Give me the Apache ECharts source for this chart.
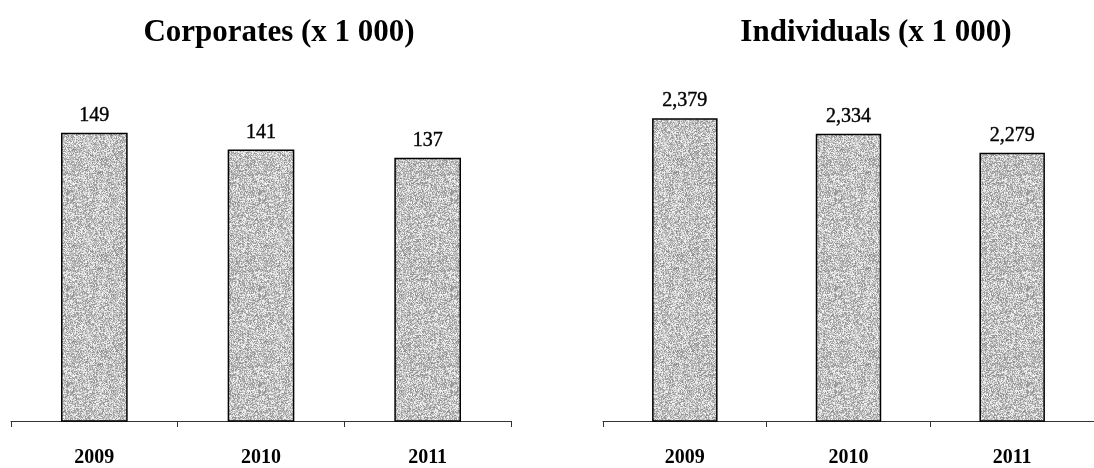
<!DOCTYPE html>
<html>
<head>
<meta charset="utf-8">
<style>
  html, body { margin: 0; padding: 0; background: #fff; }
  #chart { width: 1094px; height: 468px; }
</style>
<script src="https://cdn.jsdelivr.net/npm/echarts@6/dist/echarts.min.js"></script>
</head>
<body>
<div id="chart"></div>
<script>
// Years shown under each panel
const years = ['2009', '2010', '2011'];
// Number of corporate clients, thousands
const corporates = [149, 141, 137];
// Number of individual clients, thousands
const individuals = [2379, 2334, 2279];
// Panel titles
const titles = ['Corporates (x 1 000)', 'Individuals (x 1 000)'];

const SERIF = '"Liberation Serif", "DejaVu Serif", serif';

// Stippled grey fill for the bars (seeded, so every render looks the same)
function stipple() {
  const c = document.createElement('canvas');
  c.width = 96; c.height = 96;
  const ctx = c.getContext('2d');
  const img = ctx.createImageData(96, 96);
  let s = 12345;
  for (let i = 0; i < 96 * 96; i++) {
    s = (s * 1103515245 + 12345) & 0x7fffffff;
    const v = 140 + ((s >> 8) % 110);
    img.data[i * 4] = v; img.data[i * 4 + 1] = v; img.data[i * 4 + 2] = v; img.data[i * 4 + 3] = 255;
  }
  ctx.putImageData(img, 0, 0);
  return c;
}
const fill = { image: stipple(), repeat: 'repeat' };

const thousands = v => String(v).replace(/\B(?=(\d{3})+(?!\d))/g, ',');

function xAxis(gridIndex) {
  return {
    type: 'category', gridIndex, data: years,
    axisLine: { show: true, onZero: false, lineStyle: { color: '#333', width: 1 } },
    axisTick: { show: true, length: 6, lineStyle: { color: '#333', width: 1 } },
    axisLabel: { color: '#000', fontFamily: SERIF, fontWeight: 'bold', fontSize: 20, margin: 27 }
  };
}
function yAxis(gridIndex, min, max) {
  return { type: 'value', gridIndex, min, max, show: false, splitLine: { show: false } };
}
function bars(idx, data, fmt) {
  return {
    type: 'bar', xAxisIndex: idx, yAxisIndex: idx, data,
    barWidth: '40%',
    itemStyle: { color: fill, borderColor: '#000', borderWidth: 1.5 },
    label: {
      show: true, position: 'top', distance: 7,
      color: '#000', fontFamily: SERIF, fontSize: 20,
      textBorderColor: '#000', textBorderWidth: 0.4,
      formatter: p => fmt(p.value)
    },
    silent: true
  };
}

const chart = echarts.init(document.getElementById('chart'), null, { renderer: 'canvas' });
chart.setOption({
  backgroundColor: '#fff',
  animation: false,
  title: [
    { text: titles[0], left: 274, top: 12, textAlign: 'center',
      textStyle: { fontFamily: SERIF, fontWeight: 'bold', fontSize: 31, color: '#000' } },
    { text: titles[1], left: 871, top: 12, textAlign: 'center',
      textStyle: { fontFamily: SERIF, fontWeight: 'bold', fontSize: 31, color: '#000' } }
  ],
  grid: [
    { left: 11, width: 500, top: 110, bottom: 45 },
    { left: 603, width: 500, top: 111, bottom: 44 }
  ],
  xAxis: [xAxis(0), xAxis(1)],
  yAxis: [yAxis(0, 10, 160), yAxis(1, 1500, 2400)],
  series: [
    bars(0, corporates, v => String(v)),
    bars(1, individuals, thousands)
  ]
});
</script>
</body>
</html>
